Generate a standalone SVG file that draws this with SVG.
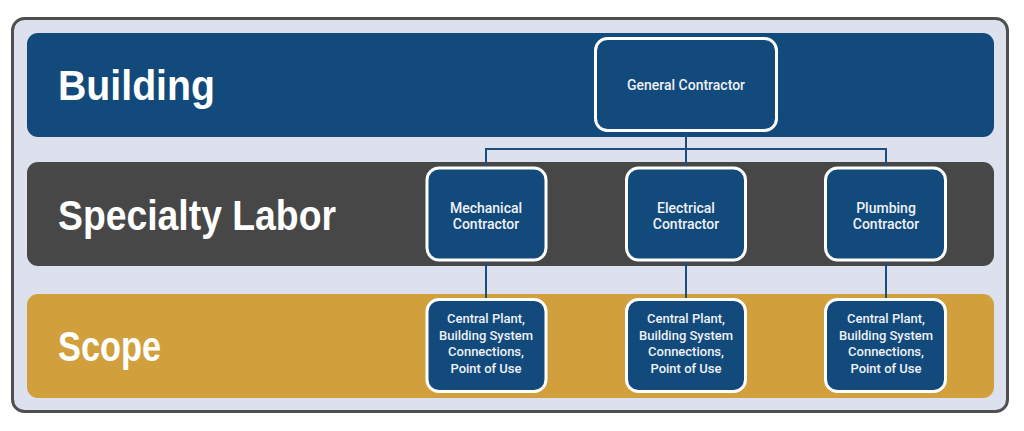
<svg xmlns="http://www.w3.org/2000/svg" width="1024" height="431" viewBox="0 0 1024 431">
<style>
.band-label{font-family:"Liberation Sans",Arial,sans-serif;font-weight:bold;font-size:42px;fill:#ffffff}
.node rect{fill:#134a7c;stroke:#ffffff;stroke-width:3}
.node text{font-family:Roboto,"Liberation Sans",Arial,sans-serif;font-weight:500;font-size:14px;fill:#eef1f7;text-anchor:middle}
.node.scope text{font-size:13px}
.conn{fill:none;stroke:#1d4e80;stroke-width:2}
</style>
<rect x="0" y="0" width="1024" height="431" fill="#ffffff"/>
<g id="frame">
<rect x="12.5" y="18.5" width="995" height="393" rx="12" fill="#dce1ed" stroke="#4f4f4f" stroke-width="3"/>
</g>
<g id="band-building">
<rect x="27" y="33" width="967" height="104" rx="11" fill="#134a7c"/>
<text class="band-label" x="58" y="100" textLength="157" lengthAdjust="spacingAndGlyphs">Building</text>
</g>
<g id="band-specialty">
<rect x="27" y="162" width="967" height="104" rx="11" fill="#474747"/>
<text class="band-label" x="58" y="230" textLength="278" lengthAdjust="spacingAndGlyphs">Specialty Labor</text>
</g>
<g id="band-scope">
<rect x="27" y="294" width="967" height="104" rx="11" fill="#d1a03c"/>
<text class="band-label" x="58" y="361" textLength="103" lengthAdjust="spacingAndGlyphs">Scope</text>
</g>
<g id="connectors">
<path class="conn" d="M686 132V149M486 149H886M486 148V167M686 149V167M886 148V167"/>
<path class="conn" d="M486 261V298M686 261V298M886 261V298"/>
</g>
<g id="general-contractor" class="node">
<rect x="595.5" y="38.5" width="181" height="92" rx="12"/>
<text x="686" y="90">General Contractor</text>
</g>
<g id="mechanical-contractor" class="node">
<rect x="427" y="168" width="119" height="92" rx="12"/>
<text x="486" y="213">Mechanical</text>
<text x="486" y="229">Contractor</text>
</g>
<g id="electrical-contractor" class="node">
<rect x="626.5" y="168" width="119" height="92" rx="12"/>
<text x="686" y="213">Electrical</text>
<text x="686" y="229">Contractor</text>
</g>
<g id="plumbing-contractor" class="node">
<rect x="825.5" y="168" width="120" height="92" rx="12"/>
<text x="886" y="213">Plumbing</text>
<text x="886" y="229">Contractor</text>
</g>
<g id="mechanical-scope" class="node scope">
<rect x="427" y="299.5" width="119" height="92" rx="12"/>
<text x="486" y="323">Central Plant,</text>
<text x="486" y="339.5">Building System</text>
<text x="486" y="356">Connections,</text>
<text x="486" y="372.5">Point of Use</text>
</g>
<g id="electrical-scope" class="node scope">
<rect x="626.5" y="299.5" width="119" height="92" rx="12"/>
<text x="686" y="323">Central Plant,</text>
<text x="686" y="339.5">Building System</text>
<text x="686" y="356">Connections,</text>
<text x="686" y="372.5">Point of Use</text>
</g>
<g id="plumbing-scope" class="node scope">
<rect x="825.5" y="299.5" width="120" height="92" rx="12"/>
<text x="886" y="323">Central Plant,</text>
<text x="886" y="339.5">Building System</text>
<text x="886" y="356">Connections,</text>
<text x="886" y="372.5">Point of Use</text>
</g>
</svg>
